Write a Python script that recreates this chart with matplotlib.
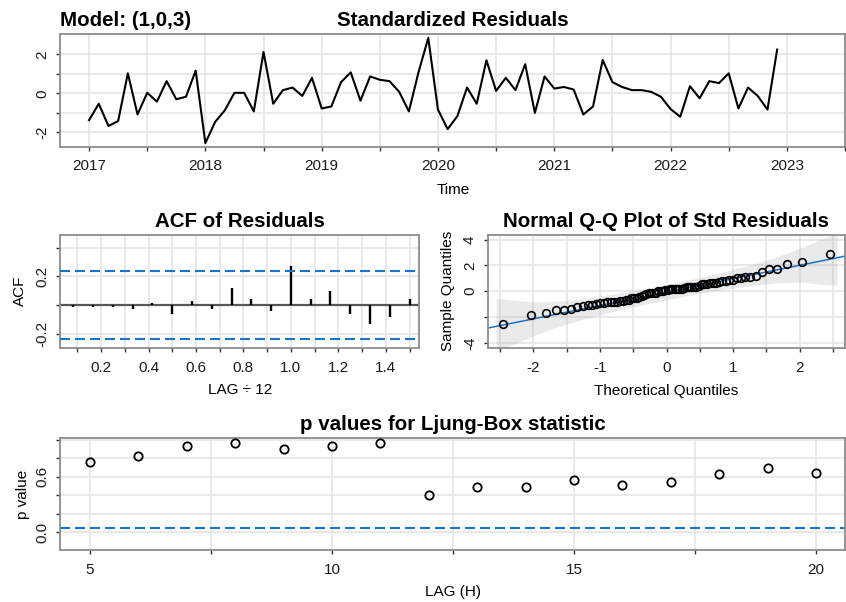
import numpy as np
import matplotlib
matplotlib.use("Agg")
import matplotlib.pyplot as plt
from statistics import NormalDist

plt.rcParams['font.family'] = ['Liberation Sans', 'DejaVu Sans']

# standardized residuals, monthly from Jan 2017
start_year = 2017
resid = [-1.37, -0.53, -1.67, -1.42, 1.03, -1.08, 0.03, -0.42, 0.63, -0.30, -0.17, 1.17,
         -2.55, -1.47, -0.87, 0.03, 0.03, -0.92, 2.13, -0.53, 0.17, 0.30, -0.13, 0.80,
         -0.77, -0.67, 0.58, 1.08, -0.37, 0.87, 0.70, 0.63, 0.08, -0.92, 1.10, 2.85,
         -0.83, -1.83, -1.17, 0.30, -0.53, 1.70, 0.13, 0.80, 0.17, 1.50, -1.00, 0.87,
         0.25, 0.33, 0.20, -1.08, -0.67, 1.72, 0.58, 0.33, 0.17, 0.17, 0.08, -0.17,
         -0.80, -1.20, 0.37, -0.25, 0.63, 0.53, 1.03, -0.77, 0.30, -0.13, -0.83, 2.25]

# ACF of residuals, lags 1..18
acf_vals = [-0.01, -0.01, -0.01, -0.03, 0.015, -0.06, 0.03, -0.03, 0.12,
            0.04, -0.04, 0.27, 0.04, 0.10, -0.06, -0.135, -0.08, 0.04]

# Ljung-Box p values
lb_lags = [5, 6, 7, 8, 9, 10, 11, 12, 13, 14, 15, 16, 17, 18, 19, 20]
lb_pvals = [0.766, 0.83, 0.93, 0.964, 0.90, 0.935, 0.964, 0.40,
            0.496, 0.496, 0.565, 0.514, 0.547, 0.63, 0.70, 0.647]

W, H = 846, 602
fig = plt.figure(figsize=(W / 100, H / 100), dpi=100)

BLUE = '#1874CD'
GRID = '#e3e3e3'
SPINE = '#8c8c8c'
TICK_FS = 11
LAB_FS = 11
TITLE_FS = 14.8


def px_axes(l, t, r, b):
    return fig.add_axes([l / W, 1 - b / H, (r - l) / W, (b - t) / H])


def ftext(x, y, s, **kw):
    fig.text(x / W, 1 - y / H, s, **kw)


def style(ax, xgrid, ygrid):
    for sp in ax.spines.values():
        sp.set_color(SPINE)
        sp.set_linewidth(1.3)
    for g in xgrid:
        ax.axvline(g, color=GRID, lw=1.1, zorder=0)
    for g in ygrid:
        ax.axhline(g, color=GRID, lw=1.1, zorder=0)
    ax.tick_params(axis='both', which='both', direction='out', length=3, width=1,
                   color='#333333', labelsize=TICK_FS, labelcolor='#1a1a1a')
    ax.tick_params(axis='x', pad=6)
    ax.tick_params(axis='y', pad=5)


def rot_y(ax):
    for lab in ax.get_yticklabels():
        lab.set_rotation(90)
        lab.set_va('center')


# ---- standardized residuals
ax1 = px_axes(60, 34, 845, 147)
t = start_year + np.arange(len(resid)) / 12
ax1.plot(t, resid, color='black', lw=1.5)
ax1.set_xlim(2016.75, 2023.15)
ax1.set_ylim(-2.75, 3.05)
style(ax1, np.arange(2017, 2023.1, 0.5), [-2, -1, 0, 1, 2])
ax1.set_xticks(np.arange(2017, 2024, 0.5))
ax1.set_xticklabels([str(int(v)) if v == int(v) else '' for v in np.arange(2017, 2024, 0.5)])
ax1.set_yticks([-2, -1, 0, 1, 2])
ax1.set_yticklabels(['-2', '', '0', '', '2'])
rot_y(ax1)
ftext(60, 26, 'Model: (1,0,3)', fontsize=TITLE_FS, fontweight='bold', ha='left', va='baseline')
ftext(453, 26, 'Standardized Residuals', fontsize=TITLE_FS, fontweight='bold', ha='center', va='baseline')
ftext(453, 190, 'Time', fontsize=LAB_FS, ha='center', va='center')

# ---- ACF
ax2 = px_axes(60, 235, 419, 348)
lags = np.arange(1, len(acf_vals) + 1) / 12
conf = 2 / np.sqrt(len(resid))
ax2.axhline(0, color='#555555', lw=1.6, zorder=1)
ax2.vlines(lags, 0, acf_vals, color='black', lw=1.7, zorder=2)
ax2.axhline(conf, color=BLUE, lw=1.5, dashes=(4.8, 2.4), zorder=3)
ax2.axhline(-conf, color=BLUE, lw=1.5, dashes=(4.8, 2.4), zorder=3)
ax2.set_xlim(0.027, 1.54)
ax2.set_ylim(-0.3, 0.49)
style(ax2, np.arange(0.1, 1.55, 0.1), [-0.2, 0, 0.2, 0.4])
xt = np.round(np.arange(0.1, 1.55, 0.1), 1)
ax2.set_xticks(xt)
ax2.set_xticklabels([f'{v:.1f}' if round(v * 10) % 2 == 0 else '' for v in xt])
ax2.set_yticks([-0.2, 0, 0.2, 0.4])
ax2.set_yticklabels(['-0.2', '', '0.2', ''])
rot_y(ax2)
ftext(240, 227, 'ACF of Residuals', fontsize=TITLE_FS, fontweight='bold', ha='center', va='baseline')
ftext(240, 390, 'LAG \u00f7 12', fontsize=LAB_FS, ha='center', va='center')
ftext(20, 291, 'ACF', fontsize=LAB_FS, ha='center', va='center', rotation=90)

# ---- normal QQ
ax3 = px_axes(488, 235, 845, 348)
n = len(resid)
pp = (np.arange(1, n + 1) - 0.5) / n
z = np.array([NormalDist().inv_cdf(p) for p in pp])
ys = np.sort(resid)
q1, q3 = np.quantile(ys, [0.25, 0.75])
zq1, zq3 = NormalDist().inv_cdf(0.25), NormalDist().inv_cdf(0.75)
b = (q3 - q1) / (zq3 - zq1)
a = q1 - b * zq1
dens = np.array([NormalDist().pdf(v) for v in z])
se = (b / dens) * np.sqrt(pp * (1 - pp) / n)
fit = a + b * z
zz = z.copy()
zz[0] -= 0.1
zz[-1] += 0.1
ax3.fill_between(zz, fit - 3.9 * se, fit + 3.9 * se, color=(0.6, 0.6, 0.6), alpha=0.2, lw=0, zorder=1)
xl = np.array([-3, 3])
ax3.plot(xl, a + b * xl, color=BLUE, lw=1.1, zorder=2)
ax3.plot(z, ys, 'o', mfc='none', mec='black', ms=5.5, mew=1.2, zorder=3)
ax3.set_xlim(-2.68, 2.68)
ax3.set_ylim(-4.4, 4.35)
style(ax3, np.arange(-2.5, 2.6, 0.5), [-4, -2, 0, 2, 4])
xt3 = np.arange(-2.5, 2.6, 0.5)
ax3.set_xticks(xt3)
ax3.set_xticklabels([str(int(v)) if v == int(v) else '' for v in xt3])
ax3.set_yticks([-4, -2, 0, 2, 4])
ax3.set_yticklabels(['-4', '', '0', '2', '4'])
rot_y(ax3)
ftext(666, 227, 'Normal Q-Q Plot of Std Residuals', fontsize=TITLE_FS, fontweight='bold',
      ha='center', va='baseline')
ftext(666, 391, 'Theoretical Quantiles', fontsize=LAB_FS, ha='center', va='center')
ftext(448, 291, 'Sample Quantiles', fontsize=LAB_FS, ha='center', va='center', rotation=90)

# ---- Ljung-Box
ax4 = px_axes(60, 438, 845, 550)
ax4.axhline(0.05, color=BLUE, lw=1.5, dashes=(4.8, 2.4), zorder=2)
ax4.plot(lb_lags, lb_pvals, 'o', mfc='none', mec='black', ms=6, mew=1.3, zorder=3)
ax4.set_xlim(4.38, 20.6)
ax4.set_ylim(-0.19, 1.02)
style(ax4, [5, 7.5, 10, 12.5, 15, 17.5, 20], [0, 0.2, 0.4, 0.6, 0.8, 1.0])
ax4.set_xticks([5, 7.5, 10, 12.5, 15, 17.5, 20])
ax4.set_xticklabels(['5', '', '10', '', '15', '', '20'])
ax4.set_yticks([0, 0.2, 0.4, 0.6, 0.8, 1.0])
ax4.set_yticklabels(['0.0', '', '', '0.6', '', ''])
rot_y(ax4)
ftext(453, 430, 'p values for Ljung-Box statistic', fontsize=TITLE_FS, fontweight='bold',
      ha='center', va='baseline')
ftext(453, 592, 'LAG (H)', fontsize=LAB_FS, ha='center', va='center')
ftext(23, 494, 'p value', fontsize=LAB_FS, ha='center', va='center', rotation=90)

fig.savefig('out.png', dpi=100, facecolor='white')
